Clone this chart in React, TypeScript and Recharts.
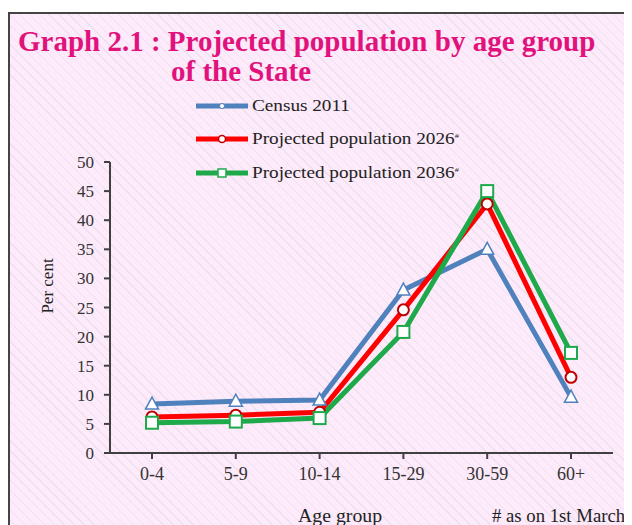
import { LineChart, Line, XAxis, YAxis } from 'recharts';

const ageGroups = ['0-4', '5-9', '10-14', '15-29', '30-59', '60+'];
const census2011 = [8.4, 8.9, 9.1, 28.0, 35.0, 9.6];
const projected2026 = [6.2, 6.5, 7.0, 24.6, 42.8, 13.0];
const projected2036 = [5.2, 5.4, 6.0, 20.8, 45.0, 17.2];
const yTicks = [0, 5, 10, 15, 20, 25, 30, 35, 40, 45, 50];

const data = ageGroups.map((name, i) => ({
  name,
  census: census2011[i],
  p2026: projected2026[i],
  p2036: projected2036[i],
}));

const FONT = '"Liberation Serif", "DejaVu Serif", serif';
const BLUE = '#4f81bd';
const RED = '#ff0000';
const GREEN = '#1eaa4b';

function TriangleDot(props: any) {
  const { cx, cy } = props;
  if (cx == null || cy == null) return null;
  return (
    <polygon
      points={`${cx},${cy - 7} ${cx - 6.5},${cy + 5} ${cx + 6.5},${cy + 5}`}
      fill="#fff"
      stroke={BLUE}
      strokeWidth={1.5}
    />
  );
}

function CircleDot(props: any) {
  const { cx, cy } = props;
  if (cx == null || cy == null) return null;
  return <circle cx={cx} cy={cy} r={5.5} fill="#fff" stroke="#c00000" strokeWidth={2} />;
}

function SquareDot(props: any) {
  const { cx, cy } = props;
  if (cx == null || cy == null) return null;
  return <rect x={cx - 6} y={cy - 6} width={12} height={12} fill="#fff" stroke={GREEN} strokeWidth={2} />;
}

const legendItems = [
  { label: 'Census 2011', color: BLUE, mark: 'c', sup: false },
  { label: 'Projected population 2026', color: RED, mark: 'r', sup: true },
  { label: 'Projected population 2036', color: GREEN, mark: 'g', sup: true },
];

function ChartLegend() {
  return (
    <div style={{ position: 'absolute', left: 184, top: 75, fontFamily: FONT, fontSize: 16, color: '#222' }}>
      {legendItems.map((it) => (
        <div key={it.label} style={{ display: 'flex', alignItems: 'center', height: 33.5 }}>
          <svg width={56} height={14} style={{ marginRight: 2 }}>
            <line x1={2} y1={7} x2={54} y2={7} stroke={it.color} strokeWidth={5} />
            {it.mark === 'c' && <circle cx={28} cy={7} r={2.5} fill="#fff" stroke={BLUE} strokeWidth={1} />}
            {it.mark === 'r' && <circle cx={28} cy={7} r={3.5} fill="#fff" stroke="#c00000" strokeWidth={1.5} />}
            {it.mark === 'g' && <rect x={24} y={3} width={8} height={8} fill="#fff" stroke={GREEN} strokeWidth={1.5} />}
          </svg>
          <span style={{ display: 'inline-block', transform: 'scaleX(1.2)', transformOrigin: 'left center', whiteSpace: 'nowrap' }}>
            {it.label}
            {it.sup && <sup style={{ fontSize: 7 }}>#</sup>}
          </span>
        </div>
      ))}
    </div>
  );
}

export default function App() {
  return (
    <div
      style={{
        position: 'relative',
        width: 624,
        height: 517,
        marginTop: 4,
        boxSizing: 'border-box',
        borderLeft: '2px solid #444',
        borderTop: '2px solid #444',
        backgroundColor: '#fdeafa',
        backgroundImage:
          'repeating-linear-gradient(45deg, rgba(255,255,255,0) 0px, rgba(255,255,255,0) 6px, rgba(225,215,225,0.55) 6px, rgba(225,215,225,0.55) 7px)',
        overflow: 'hidden',
        fontFamily: FONT,
      }}
    >
      <div
        style={{
          position: 'absolute',
          left: 8,
          top: 12,
          color: '#e2127d',
          fontWeight: 'bold',
          fontSize: 29,
          lineHeight: '30px',
          whiteSpace: 'nowrap',
        }}
      >
        <div>Graph 2.1 : Projected population by age group</div>
        <div style={{ paddingLeft: 153 }}>of the State</div>
      </div>
      <ChartLegend />
      <LineChart
        width={622}
        height={515}
        data={data}
        margin={{ top: 150, right: 17, left: 0, bottom: 44 }}
        style={{ position: 'absolute', left: -2, top: -2 }}
      >
        <XAxis
          dataKey="name"
          height={30}
          padding={{ left: 42, right: 42 }}
          axisLine={{ stroke: '#404040', strokeWidth: 2 }}
          tickLine={{ stroke: '#404040', strokeWidth: 2 }}
          tickSize={6}
          tick={{ fill: '#333', fontSize: 18, fontFamily: FONT }}
          tickMargin={8}
        />
        <YAxis
          width={102}
          domain={[0, 50]}
          ticks={yTicks}
          interval={0}
          axisLine={{ stroke: '#404040', strokeWidth: 2 }}
          tickLine={{ stroke: '#404040', strokeWidth: 2 }}
          tickSize={6}
          tickMargin={10}
          tick={{ fill: '#333', fontSize: 17, fontFamily: FONT }}
        />
        <Line
          dataKey="census"
          name="Census 2011"
          stroke={BLUE}
          strokeWidth={5}
          dot={<TriangleDot />}
          activeDot={false}
          isAnimationActive={false}
        />
        <Line
          dataKey="p2026"
          name="Projected population 2026"
          stroke={RED}
          strokeWidth={5}
          dot={<CircleDot />}
          activeDot={false}
          isAnimationActive={false}
        />
        <Line
          dataKey="p2036"
          name="Projected population 2036"
          stroke={GREEN}
          strokeWidth={5}
          dot={<SquareDot />}
          activeDot={false}
          isAnimationActive={false}
        />
      </LineChart>
      <div
        style={{
          position: 'absolute',
          left: 38,
          top: 272,
          fontSize: 17,
          color: '#222',
          whiteSpace: 'nowrap',
          transform: 'translate(-50%, -50%) rotate(-90deg)',
        }}
      >
        Per cent
      </div>
      <div
        style={{
          position: 'absolute',
          left: 288,
          top: 492,
          fontSize: 18,
          color: '#222',
          whiteSpace: 'nowrap',
          transform: 'scaleX(1.1)',
          transformOrigin: 'left center',
        }}
      >
        Age group
      </div>
      <div
        style={{
          position: 'absolute',
          left: 482,
          top: 492,
          fontSize: 18,
          color: '#222',
          whiteSpace: 'nowrap',
          transform: 'scaleX(1.04)',
          transformOrigin: 'left center',
        }}
      >
        # as on 1st March
      </div>
    </div>
  );
}
